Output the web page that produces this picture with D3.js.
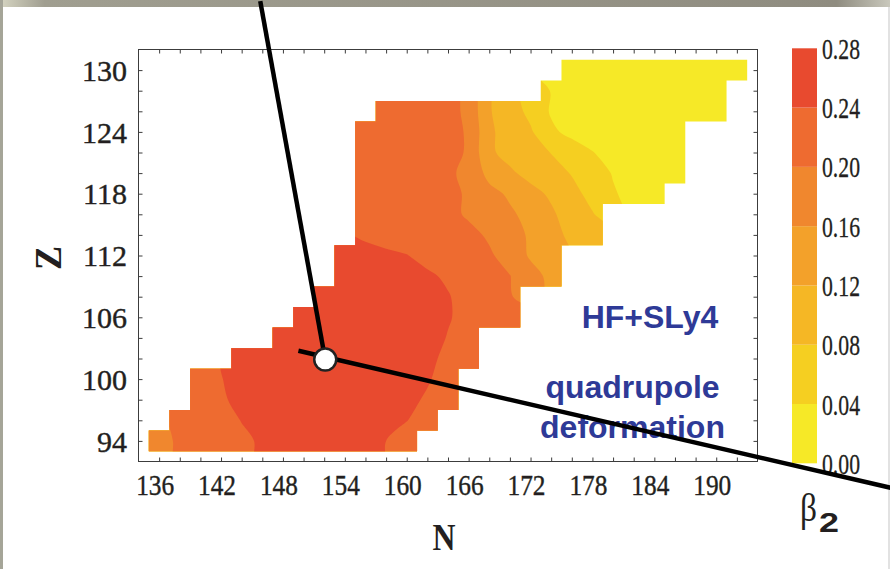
<!DOCTYPE html>
<html>
<head>
<meta charset="utf-8">
<script src="https://cdn.jsdelivr.net/npm/d3@7"></script>
<style>
  html, body { margin: 0; padding: 0; background: #fff; }
  svg { display: block; }
</style>
</head>
<body>
<div id="chart"></div>
<script>
/////////////// DATA : beta2 of even-even nuclei, one array per Z row ///////////////
const zRows  = [94, 96, 98, 100, 102, 104, 106, 108, 110, 112, 114, 116, 118, 120, 122, 124, 126, 128, 130];
const nStart = [136, 138, 140, 140, 144, 148, 150, 152, 154, 154, 156, 156, 156, 156, 156, 156, 158, 174, 176];

const beta094 = [0.190, 0.205, 0.212, 0.222, 0.234, 0.244, 0.250, 0.255, 0.256, 0.255, 0.250, 0.240, 0.225];
const beta096 = [0.205, 0.215, 0.228, 0.241, 0.250, 0.255, 0.258, 0.260, 0.260, 0.258, 0.252, 0.241, 0.225];
const beta098 = [0.220, 0.236, 0.248, 0.255, 0.260, 0.260, 0.260, 0.260, 0.260, 0.255, 0.248, 0.236, 0.225];
const beta100 = [0.225, 0.239, 0.250, 0.255, 0.260, 0.260, 0.265, 0.265, 0.265, 0.260, 0.255, 0.243, 0.228];
const beta102 = [0.245, 0.250, 0.255, 0.260, 0.265, 0.265, 0.270, 0.265, 0.260, 0.248, 0.232, 0.222];
const beta104 = [0.250, 0.255, 0.260, 0.265, 0.270, 0.270, 0.265, 0.255, 0.238, 0.225];
const beta106 = [0.250, 0.260, 0.265, 0.270, 0.270, 0.265, 0.255, 0.243, 0.228, 0.218, 0.210];
const beta108 = [0.255, 0.260, 0.265, 0.265, 0.260, 0.250, 0.242, 0.228, 0.215, 0.202];
const beta110 = [0.255, 0.260, 0.260, 0.255, 0.245, 0.235, 0.225, 0.215, 0.201, 0.175, 0.150];
const beta112 = [0.250, 0.250, 0.245, 0.241, 0.230, 0.225, 0.215, 0.205, 0.185, 0.155, 0.135];
const beta114 = [0.235, 0.230, 0.225, 0.220, 0.215, 0.210, 0.195, 0.175, 0.155, 0.135, 0.110, 0.088];
const beta116 = [0.225, 0.225, 0.225, 0.220, 0.210, 0.195, 0.180, 0.165, 0.150, 0.125, 0.105, 0.082];
const beta118 = [0.225, 0.225, 0.225, 0.220, 0.210, 0.195, 0.170, 0.155, 0.130, 0.115, 0.090, 0.070, 0.043, 0.030, 0.025];
const beta120 = [0.225, 0.225, 0.225, 0.220, 0.210, 0.185, 0.150, 0.125, 0.110, 0.093, 0.078, 0.055, 0.038, 0.030, 0.025, 0.022];
const beta122 = [0.225, 0.225, 0.225, 0.220, 0.215, 0.195, 0.125, 0.110, 0.095, 0.079, 0.060, 0.041, 0.030, 0.025, 0.022, 0.020];
const beta124 = [0.225, 0.225, 0.225, 0.220, 0.215, 0.195, 0.128, 0.100, 0.085, 0.047, 0.030, 0.028, 0.025, 0.022, 0.020, 0.020];
const beta126 = [0.220, 0.220, 0.218, 0.215, 0.190, 0.123, 0.098, 0.070, 0.036, 0.030, 0.028, 0.026, 0.024, 0.022, 0.021, 0.020, 0.020];
const beta128 = [0.039, 0.033, 0.030, 0.028, 0.026, 0.024, 0.022, 0.021, 0.020];
const beta130 = [0.035, 0.030, 0.027, 0.025, 0.023, 0.022, 0.021, 0.020, 0.020];

const betaRows = [beta094, beta096, beta098, beta100, beta102, beta104, beta106, beta108, beta110, beta112,
                  beta114, beta116, beta118, beta120, beta122, beta124, beta126, beta128, beta130];

const nTicks  = d3.range(136, 193, 2);
const zTicks  = d3.range(94, 131, 2);
const nLabels = [136, 142, 148, 154, 160, 166, 172, 178, 184, 190];
const zLabels = [94, 100, 106, 112, 118, 124, 130];
const betaLevels = [0, 0.04, 0.08, 0.12, 0.16, 0.20, 0.24, 0.28];
const bandColors = ["#f6e927", "#f5cf21", "#f5b725", "#f3a12a", "#f0872e", "#ee6b30", "#e84a2f"];

// annotation overlay (pivot + two arms), in (N, Z) units
const pivot    = {n: 152.1, z: 101.9};
const armUp    = [{n: 145.8, z: 136.7}, {n: 152.1, z: 101.9}];
const armRight = [{n: 149.5, z: 102.75}, {n: 206.9, z: 89.45}];

const serif = "'Liberation Serif', 'Times New Roman', serif";
const sans  = "'Liberation Sans', Arial, sans-serif";
const ink   = "#231f20";

let w = 890, h = 569;
let svg = d3.select("#chart").append("svg").attr("width", w).attr("height", h);

/////////////// slide frame ///////////////
let defs = svg.append("defs");
let grad = defs.append("linearGradient").attr("id", "topbar");
grad.append("stop").attr("offset", "0%").attr("stop-color", "#d6d5c2");
grad.append("stop").attr("offset", "5%").attr("stop-color", "#a09e90");
grad.append("stop").attr("offset", "94%").attr("stop-color", "#8f8c80");
grad.append("stop").attr("offset", "100%").attr("stop-color", "#c9c8bc");
svg.append("rect").attr("x", 0).attr("y", 0).attr("width", w).attr("height", 7).attr("fill", "url(#topbar)");
svg.append("rect").attr("x", 0).attr("y", 0).attr("width", 3).attr("height", h).attr("fill", "#a5a598");
svg.append("rect").attr("x", w - 2).attr("y", 7).attr("width", 2).attr("height", h).attr("fill", "#e2e2e2");

/////////////// scales ///////////////
let x = d3.scaleLinear().domain([134, 194]).range([138.5, 757.5]);
let y = d3.scaleLinear().domain([92, 132]).range([461.5, 49.5]);

/////////////// grid for contouring ///////////////
// one spare point on every side so that the ring corners fall outside the clip
let step = 2, n0 = 134, z0 = 92;
let nx = (194 - n0) / step + 1, ny = (132 - z0) / step + 1;
let grid = new Array(nx * ny).fill(null);
zRows.forEach(function(z, j) {
  let row = (z - z0) / step;
  betaRows[j].forEach(function(v, k) {
    grid[row * nx + (nStart[j] - n0) / step + k] = v;
  });
});
// points outside the chart take the nearest known value, so the steps don't bend the bands
let known = [];
grid.forEach(function(v, idx) { if (v != null) known.push([idx % nx, Math.floor(idx / nx), v]); });
let values = grid.map(function(v, idx) {
  if (v != null) return v;
  let i = idx % nx, j = Math.floor(idx / nx);
  let best = Infinity, sum = 0, cnt = 0;
  known.forEach(function(p) {
    let d = (p[0] - i) * (p[0] - i) + (p[1] - j) * (p[1] - j);
    if (d < best - 1e-9) { best = d; sum = p[2]; cnt = 1; }
    else if (Math.abs(d - best) < 1e-9) { sum += p[2]; cnt++; }
  });
  return sum / cnt;
});

// staircase outline of the calculated nuclei
let outline = [];
zRows.forEach(function(z, j) {
  outline.push([nStart[j] - 1, z - 1], [nStart[j] - 1, z + 1]);
});
for (let j = zRows.length - 1; j >= 0; j--) {
  let nEnd = nStart[j] + step * (betaRows[j].length - 1);
  outline.push([nEnd + 1, zRows[j] + 1], [nEnd + 1, zRows[j] - 1]);
}
defs.append("clipPath").attr("id", "nuclei")
  .append("path")
  .attr("d", d3.line().x(function(d) { return x(d[0]); }).y(function(d) { return y(d[1]); })(outline) + "Z");

let contours = d3.contours().size([nx, ny]).thresholds(betaLevels.slice(0, 7))(values);
let toPx = function(p) { return [x(n0 - step / 2 + step * p[0]), y(z0 - step / 2 + step * p[1])]; };
let ring = d3.line().curve(d3.curveCatmullRomClosed.alpha(0.5));

svg.append("g")
  .attr("clip-path", "url(#nuclei)")
  .selectAll("path")
  .data(contours)
  .join("path")
  .attr("d", function(c) {
    return c.coordinates.map(function(poly) {
      return poly.map(function(r) { return ring(r.slice(0, -1).map(toPx)); }).join("");
    }).join("");
  })
  .attr("fill-rule", "evenodd")
  .attr("fill", function(c) { return bandColors[betaLevels.indexOf(c.value)]; });

/////////////// frame + axes ///////////////
let frameColor = "#3c3c3c";
svg.append("rect")
  .attr("x", x(134)).attr("y", y(132))
  .attr("width", x(194) - x(134)).attr("height", y(92) - y(132))
  .attr("fill", "none").attr("stroke", frameColor).attr("stroke-width", 1);

function styleAxis(g) {
  g.select(".domain").remove();
  g.selectAll("line").attr("stroke", frameColor);
}

let axB = svg.append("g").attr("transform", "translate(0," + y(92) + ")")
  .call(d3.axisBottom(x).tickValues(nTicks).tickSizeInner(-4).tickSizeOuter(0)
    .tickFormat(function(d) { return nLabels.includes(d) ? d : ""; }));
styleAxis(axB);
axB.selectAll("text")
  .attr("y", 33).attr("dy", null).attr("dx", -4.5)
  .attr("font-family", serif).attr("font-size", 30).attr("fill", ink)
  .attr("stroke", ink).attr("stroke-width", 0.4)
  .filter(function(d) { return nLabels.includes(d); })
  .attr("textLength", 38).attr("lengthAdjust", "spacingAndGlyphs");

let axL = svg.append("g").attr("transform", "translate(" + x(134) + ",0)")
  .call(d3.axisLeft(y).tickValues(zTicks).tickSizeInner(-4).tickSizeOuter(0)
    .tickFormat(function(d) { return zLabels.includes(d) ? d : ""; }));
styleAxis(axL);
axL.selectAll("text")
  .attr("x", -11.5).attr("dy", "0.34em")
  .attr("font-family", serif).attr("font-size", 30).attr("fill", ink)
  .attr("stroke", ink).attr("stroke-width", 0.4);

let axT = svg.append("g").attr("transform", "translate(0," + y(132) + ")")
  .call(d3.axisTop(x).tickValues(nTicks).tickSizeInner(-4).tickSizeOuter(0).tickFormat(""));
styleAxis(axT);

let axR = svg.append("g").attr("transform", "translate(" + x(194) + ",0)")
  .call(d3.axisRight(y).tickValues(zTicks).tickSizeInner(-4).tickSizeOuter(0).tickFormat(""));
styleAxis(axR);

// axis titles
svg.append("text")
  .attr("x", 444).attr("y", 550)
  .attr("text-anchor", "middle")
  .attr("font-family", serif).attr("font-weight", "bold").attr("font-size", 37).attr("fill", ink)
  .attr("textLength", 23).attr("lengthAdjust", "spacingAndGlyphs")
  .text("N");

svg.append("text")
  .attr("transform", "translate(61,258) rotate(-90)")
  .attr("text-anchor", "middle")
  .attr("font-family", serif).attr("font-weight", "bold").attr("font-size", 38).attr("fill", ink)
  .attr("textLength", 24).attr("lengthAdjust", "spacingAndGlyphs")
  .text("Z");

/////////////// colour bar ///////////////
let cb = d3.scaleLinear().domain([0, 0.28]).range([463.3, 48.3]);

svg.selectAll(".cbar")
  .data(bandColors)
  .enter()
  .append("rect")
  .attr("class", "cbar")
  .attr("x", 792)
  .attr("width", 25)
  .attr("y", function(d, i) { return cb(betaLevels[i + 1]); })
  .attr("height", function(d, i) { return cb(betaLevels[i]) - cb(betaLevels[i + 1]); })
  .attr("fill", function(d) { return d; });

svg.selectAll(".cblabel")
  .data(betaLevels)
  .enter()
  .append("text")
  .attr("class", "cblabel")
  .attr("x", 822)
  .attr("y", function(d) { return cb(d) + 10.5; })
  .attr("font-family", serif).attr("font-size", 30).attr("fill", ink)
  .attr("stroke", ink).attr("stroke-width", 0.3)
  .attr("textLength", 38).attr("lengthAdjust", "spacingAndGlyphs")
  .text(function(d) { return d3.format(".2f")(d); });

let beta = svg.append("g");
beta.append("text").attr("x", 800).attr("y", 520.5)
  .attr("font-family", serif).attr("font-size", 41).attr("fill", ink)
  .attr("textLength", 17).attr("lengthAdjust", "spacingAndGlyphs").text("β");
beta.append("text").attr("x", 819).attr("y", 532)
  .attr("font-family", sans).attr("font-weight", "bold").attr("font-size", 27).attr("fill", ink)
  .attr("textLength", 20).attr("lengthAdjust", "spacingAndGlyphs").text("2");

/////////////// labels ///////////////
let blue = "#2e3a97";
let notes = [
  {t: "HF+SLy4", cx: 650, by: 328},
  {t: "quadrupole", cx: 632.5, by: 398},
  {t: "deformation", cx: 632.5, by: 438}
];
svg.selectAll(".note")
  .data(notes)
  .enter()
  .append("text")
  .attr("class", "note")
  .attr("x", function(d) { return d.cx; })
  .attr("y", function(d) { return d.by; })
  .attr("text-anchor", "middle")
  .attr("font-family", sans).attr("font-weight", "bold").attr("font-size", 32).attr("fill", blue)
  .text(function(d) { return d.t; });

/////////////// overlay arms ///////////////
let arm = d3.line().x(function(d) { return x(d.n); }).y(function(d) { return y(d.z); });
svg.append("path").attr("d", arm(armUp)).attr("stroke", "#000").attr("stroke-width", 4.5).attr("fill", "none");
svg.append("path").attr("d", arm(armRight)).attr("stroke", "#000").attr("stroke-width", 4.5).attr("fill", "none");
svg.append("circle")
  .attr("cx", x(pivot.n)).attr("cy", y(pivot.z)).attr("r", 11)
  .attr("fill", "#fff").attr("stroke", "#222").attr("stroke-width", 2.5);
</script>
</body>
</html>
